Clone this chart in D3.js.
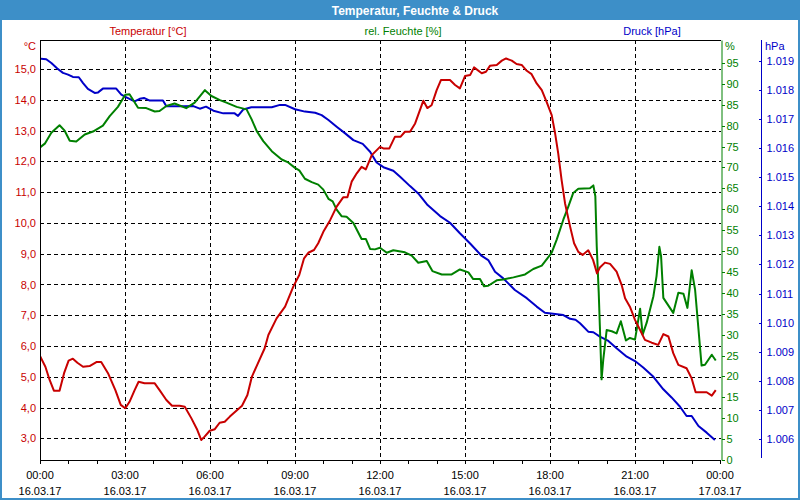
<!DOCTYPE html>
<html>
<head>
<meta charset="utf-8">
<script src="https://cdn.jsdelivr.net/npm/d3@7"></script>
<style>
  body { margin: 0; background: #fff; }
  svg { display: block; font-family: "Liberation Sans", "DejaVu Sans", sans-serif; }
  .tick line { shape-rendering: crispEdges; }
</style>
</head>
<body>
<div id="chart"></div>
<script>
// hours since 16.03.17 00:00
const tempHours = [0,0.19,0.34,0.49,0.69,0.85,1.01,1.16,1.32,1.52,1.75,1.99,2.16,2.4,2.66,2.85,3.01,3.16,3.34,3.48,3.69,4.05,4.22,4.46,4.66,4.93,5.11,5.34,5.55,5.69,5.81,5.99,6.17,6.34,6.52,6.7,6.93,7.13,7.32,7.48,7.69,7.93,8.06,8.35,8.65,8.94,9.15,9.32,9.47,9.67,9.82,10,10.24,10.47,10.7,10.85,11,11.18,11.35,11.5,11.71,12,12.12,12.33,12.53,12.73,12.88,13.06,13.24,13.53,13.67,13.82,14,14.15,14.47,14.65,14.82,15,15.18,15.32,15.59,15.74,15.88,16.12,16.3,16.45,16.65,16.82,17,17.18,17.35,17.53,17.71,17.88,18.06,18.18,18.29,18.41,18.53,18.71,18.85,19,19.15,19.35,19.52,19.66,19.76,19.94,20.12,20.35,20.53,20.65,20.82,21,21.18,21.35,21.59,21.82,22,22.18,22.35,22.53,22.82,23,23.14,23.53,23.71,23.85];
const tempValues = [5.68,5.33,4.9,4.55,4.55,5.12,5.53,5.59,5.46,5.33,5.35,5.48,5.48,5.12,4.57,4.09,3.98,4.19,4.57,4.84,4.79,4.79,4.57,4.25,4.06,4.06,4.03,3.66,3.28,2.95,3.06,3.25,3.3,3.51,3.54,3.71,3.9,4.06,4.41,5.01,5.44,5.93,6.36,6.9,7.28,7.93,8.31,8.85,9.03,9.12,9.34,9.71,10.09,10.53,10.83,10.83,11.34,11.61,11.82,11.74,12.2,12.47,12.42,12.42,12.8,12.8,12.96,12.96,13.23,13.97,13.73,13.82,14.31,14.64,14.64,14.48,14.37,14.77,14.8,15.05,14.86,14.91,15.1,15.13,15.27,15.34,15.27,15.16,15.13,14.94,14.83,14.53,14.31,13.93,13.5,12.91,12.26,11.39,10.64,9.88,9.34,9.06,8.96,9.11,8.8,8.36,8.55,8.71,8.67,8.42,7.98,7.55,7.28,6.85,6.52,6.2,6.11,6.04,6.39,6.31,5.77,5.39,5.28,4.95,4.5,4.5,4.39,4.57];

const humHours = [0,0.17,0.4,0.69,0.87,1.05,1.28,1.58,1.87,2.22,2.46,2.75,3.01,3.16,3.46,3.75,4.05,4.22,4.46,4.75,5.16,5.46,5.82,6.05,6.35,6.58,6.94,7.29,7.47,7.65,7.88,8.18,8.53,8.76,9,9.15,9.35,9.59,9.82,10,10.18,10.33,10.47,10.65,10.82,11.06,11.35,11.5,11.65,11.82,12,12.24,12.47,12.88,13.12,13.35,13.65,13.85,14.18,14.53,14.82,15.12,15.29,15.53,15.67,15.82,16.12,16.35,16.71,17.12,17.41,17.71,17.88,18.06,18.24,18.47,18.65,18.82,19,19.41,19.53,19.6,19.65,19.72,19.76,19.82,19.88,20,20.18,20.35,20.5,20.68,20.82,21,21.06,21.18,21.27,21.41,21.65,21.76,21.86,21.92,22,22.35,22.53,22.71,22.85,23,23.12,23.35,23.47,23.71,23.85];
const humValues = [74.8,75.7,78.3,80.1,78.8,76.4,76.2,77.9,78.6,80,82.3,84.5,87.4,87.5,84.3,84.2,83.4,83.5,84.7,85.3,84.2,85.5,88.5,87.1,86.1,85.5,84.5,83.9,81.5,78.7,76.3,73.9,71.9,71.2,69.9,69.3,67.3,66.5,65.9,64.7,62.5,61.9,59.9,58.3,58.2,56.7,52.9,52.9,50.5,50.4,50.8,49.6,50.2,49.7,48.9,47.2,47.6,45.2,44.4,44.4,45.6,44.9,43.3,43.3,41.6,41.7,43,43.2,43.7,44.4,45.7,46.5,48,49.6,52.8,57.5,60.7,63.9,64.9,65,65.7,63.1,51.1,40,32,19.3,24,31.1,30.8,30.3,33.2,28.6,29.2,28.8,31.2,36.2,30,32.8,39.2,44,51,48.8,38.8,35.2,40,39.8,36.4,45.4,40.8,22.6,22.8,25.2,23.8];

const presHours = [0,0.22,0.4,0.61,0.81,0.99,1.16,1.37,1.52,1.69,1.93,2.05,2.22,2.69,2.87,3.05,3.34,3.52,3.67,3.87,4.34,4.46,5.11,5.41,5.64,5.86,6.12,6.47,6.87,6.99,7.17,7.46,8.18,8.47,8.65,9,9.35,9.71,9.94,10.18,10.47,10.76,11.06,11.39,11.65,11.88,12.12,12.47,12.71,13.06,13.35,13.68,14.12,14.47,14.82,15.18,15.59,15.82,16.06,16.35,16.76,17.18,17.53,17.82,18.47,18.71,18.9,19.06,19.35,19.53,19.76,20.06,20.35,20.71,21,21.29,21.65,22,22.29,22.59,22.82,23,23.24,23.53,23.82];
const presValues = [1019.07,1019.05,1018.92,1018.73,1018.58,1018.52,1018.44,1018.43,1018.23,1018.03,1017.89,1017.91,1018.04,1018.04,1017.83,1017.74,1017.6,1017.69,1017.72,1017.63,1017.63,1017.43,1017.43,1017.44,1017.35,1017.42,1017.28,1017.19,1017.19,1017.1,1017.32,1017.4,1017.4,1017.48,1017.48,1017.33,1017.25,1017.21,1017.13,1016.96,1016.73,1016.51,1016.27,1016.14,1015.87,1015.5,1015.34,1015.22,1015.01,1014.69,1014.44,1014.04,1013.66,1013.43,1013.07,1012.72,1012.29,1012.15,1011.75,1011.52,1011.12,1010.84,1010.55,1010.34,1010.26,1010.13,1010.1,1009.98,1009.69,1009.67,1009.52,1009.37,1009.12,1008.83,1008.68,1008.46,1008.14,1007.71,1007.43,1007.11,1006.79,1006.79,1006.45,1006.22,1005.97];

const tempTicks = d3.range(3, 16);
const humTicks = d3.range(0, 100, 5);
const presTicks = d3.range(1006, 1020);

const title = 'Temperatur, Feuchte & Druck';
const seriesNames = ['Temperatur [°C]', 'rel. Feuchte [%]', 'Druck [hPa]'];
const unitNames = ['°C', '%', 'hPa'];

const colors = { temp: '#c80000', hum: '#008000', pres: '#0000c8', frame: '#3d8fc8' };

const width = 800;
const height = 500;
const plot = { left: 40, right: 721, top: 40, bottom: 460 };

const de = d3.formatLocale({ decimal: ',', thousands: '.', grouping: [3], currency: ['', ' €'] });
const start = new Date(2017, 2, 16, 0, 0);
const toDate = (h) => new Date(start.getTime() + h * 3600e3);

const x = d3.scaleTime()
  .domain([start, toDate(24)])
  .range([plot.left, 720]);
const yTemp = d3.scaleLinear().domain([2.3, 15.94]).range([plot.bottom, plot.top]);
const yHum = d3.scaleLinear().domain([0, 100.5]).range([plot.bottom, plot.top]);
const yPres = d3.scaleLinear().domain([1005.28, 1019.71]).range([plot.bottom, plot.top]);

const svg = d3.select('#chart')
  .append('svg')
  .attr('width', width)
  .attr('height', height);

// frame + title bar
svg.append('rect')
  .attr('x', 1).attr('y', 1)
  .attr('width', width - 2).attr('height', height - 2)
  .attr('fill', '#fff')
  .attr('stroke', colors.frame)
  .attr('stroke-width', 2);
svg.append('rect')
  .attr('x', 0).attr('y', 0)
  .attr('width', width).attr('height', 20)
  .attr('fill', colors.frame);
svg.append('text')
  .attr('x', 415).attr('y', 14.5)
  .attr('text-anchor', 'middle')
  .attr('fill', '#fff')
  .attr('font-weight', 'bold')
  .attr('font-size', 12)
  .text(title);

// series titles
const titleX = [148, 403, 652];
const titleColors = [colors.temp, colors.hum, colors.pres];
svg.selectAll('.series-title')
  .data(seriesNames)
  .enter()
  .append('text')
  .attr('class', 'series-title')
  .attr('x', (d, i) => titleX[i])
  .attr('y', 35)
  .attr('text-anchor', 'middle')
  .attr('font-size', 11)
  .attr('fill', (d, i) => titleColors[i])
  .text((d) => d);

// grid
const grid = svg.append('g')
  .attr('stroke', '#000')
  .attr('stroke-dasharray', '4,3')
  .attr('shape-rendering', 'crispEdges');
grid.selectAll('.hgrid')
  .data(tempTicks)
  .enter()
  .append('line')
  .attr('x1', plot.left).attr('x2', plot.right)
  .attr('y1', (d) => Math.round(yTemp(d)) + 0.5)
  .attr('y2', (d) => Math.round(yTemp(d)) + 0.5);
grid.selectAll('.vgrid')
  .data(d3.range(3, 24, 3))
  .enter()
  .append('line')
  .attr('x1', (d) => Math.round(x(toDate(d))) + 0.5)
  .attr('x2', (d) => Math.round(x(toDate(d))) + 0.5)
  .attr('y1', plot.top).attr('y2', plot.bottom);

// plot frame (top + left black)
svg.append('path')
  .attr('d', `M${plot.left + 0.5},${plot.bottom}V${plot.top + 0.5}H${plot.right}`)
  .attr('fill', 'none')
  .attr('stroke', '#000')
  .attr('shape-rendering', 'crispEdges');

// left temperature axis
const tempAxis = d3.axisLeft(yTemp)
  .tickValues(tempTicks)
  .tickSize(0)
  .tickPadding(4)
  .tickFormat(de.format(',.1f'));
const gTemp = svg.append('g')
  .attr('transform', `translate(${plot.left},0)`)
  .call(tempAxis);
gTemp.select('.domain').remove();
gTemp.selectAll('text').attr('fill', colors.temp).attr('font-size', 11).attr('font-family', null);

// bottom time axis
const gX = svg.append('g').attr('transform', `translate(0,${plot.bottom + 0.5})`);
gX.call(d3.axisBottom(x)
  .tickValues(d3.range(0, 25, 1).map(toDate))
  .tickSize(3)
  .tickSizeOuter(0)
  .tickFormat(''));
gX.select('.domain').attr('d', `M${plot.left},0H${plot.right}`).attr('stroke', '#000');
const fmtTime = d3.timeFormat('%H:%M');
const fmtDate = d3.timeFormat('%d.%m.%y');
const xLabels = gX.selectAll('.xlabel')
  .data(d3.range(0, 25, 3).map(toDate))
  .enter()
  .append('text')
  .attr('class', 'xlabel')
  .attr('text-anchor', 'middle')
  .attr('font-size', 11)
  .attr('fill', '#000');
xLabels.append('tspan')
  .attr('x', (d) => x(d))
  .attr('y', 18)
  .text(fmtTime);
xLabels.append('tspan')
  .attr('x', (d) => x(d))
  .attr('y', 34)
  .text(fmtDate);

// right humidity axis
const gHum = svg.append('g')
  .attr('transform', `translate(${plot.right + 0.5},0)`)
  .call(d3.axisRight(yHum)
    .tickValues(humTicks)
    .tickSize(3)
    .tickSizeOuter(0)
    .tickPadding(2)
    .tickFormat(d3.format('d')));
gHum.select('.domain').attr('stroke', colors.hum);
gHum.selectAll('line').attr('stroke', colors.hum);
gHum.selectAll('text').attr('fill', colors.hum).attr('font-size', 11).attr('font-family', null);

// pressure axis
const gPres = svg.append('g')
  .attr('transform', 'translate(761.5,0)')
  .call(d3.axisRight(yPres)
    .tickValues(presTicks)
    .tickSizeInner(-3)
    .tickSizeOuter(0)
    .tickPadding(5)
    .tickFormat(de.format(',d')));
gPres.select('.domain').attr('stroke', colors.pres).attr('d', 'M0,458V40');
gPres.selectAll('line').attr('stroke', colors.pres);
gPres.selectAll('text').attr('fill', colors.pres).attr('font-size', 11).attr('font-family', null);

// unit labels
svg.append('text').attr('x', 36).attr('y', 50).attr('text-anchor', 'end')
  .attr('font-size', 11).attr('fill', colors.temp).text(unitNames[0]);
svg.append('text').attr('x', 725).attr('y', 50)
  .attr('font-size', 11).attr('fill', colors.hum).text(unitNames[1]);
svg.append('text').attr('x', 765).attr('y', 50)
  .attr('font-size', 11).attr('fill', colors.pres).text(unitNames[2]);

// lines
svg.append('clipPath').attr('id', 'clip')
  .append('rect')
  .attr('x', plot.left + 1).attr('y', plot.top + 1)
  .attr('width', plot.right - plot.left - 1).attr('height', plot.bottom - plot.top - 1);

const lines = svg.append('g').attr('clip-path', 'url(#clip)');

const drawLine = (hours, values, yScale, color) => {
  const line = d3.line()
    .x((d, i) => x(toDate(hours[i])))
    .y((d) => yScale(d));
  lines.append('path')
    .datum(values)
    .attr('fill', 'none')
    .attr('stroke', color)
    .attr('stroke-width', 2)
    .attr('stroke-linejoin', 'round')
    .attr('d', line);
};

drawLine(presHours, presValues, yPres, colors.pres);
drawLine(humHours, humValues, yHum, colors.hum);
drawLine(tempHours, tempValues, yTemp, colors.temp);
</script>
</body>
</html>
